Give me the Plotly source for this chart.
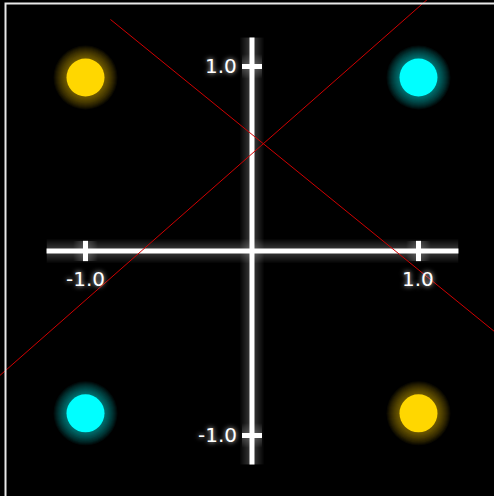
import plotly.graph_objects as go

# Point markers (quadrant colours)
dot_x = [-1.0, 1.0, -1.0, 1.0]
dot_y = [0.94, 0.94, -0.88, -0.88]
dot_colors = ["#FFD700", "#00FFFF", "#00FFFF", "#FFD700"]

# Axis extents and tick positions
axis_x_span = [-1.234, 1.24]
axis_y_span = [-1.157, 1.157]
tick_vals = [-1.0, 1.0]
tick_labels = ["-1.0", "1.0"]

# Red guide lines (endpoints in data units)
red_line_a_x = [-0.85, 1.75]
red_line_a_y = [1.2548, -0.652]
red_line_b_x = [-1.75, 1.2]
red_line_b_y = [-0.862, 1.48]

x_range = [-1.5135, 1.4535]
y_range = [-1.328, 1.3603]

fig = go.Figure()

# Soft halo: many thin translucent layers stacked from wide to narrow
line_glow = [(w, 0.022) for w in range(24, 5, -2)]


def glow_line(xs, ys):
    for w, a in line_glow:
        fig.add_trace(go.Scatter(x=xs, y=ys, mode="lines",
                                 line=dict(color=f"rgba(255,255,255,{a})", width=w),
                                 hoverinfo="skip", showlegend=False))
    fig.add_trace(go.Scatter(x=xs, y=ys, mode="lines",
                             line=dict(color="white", width=5),
                             hoverinfo="skip", showlegend=False))


# Axes through the origin
glow_line(axis_x_span, [0, 0])
glow_line([0, 0], axis_y_span)

# Tick marks
tick_half_x = 0.055   # vertical tick on horizontal axis (data y units)
tick_half_y = 0.06    # horizontal tick on vertical axis (data x units)
for t in tick_vals:
    glow_line([t, t], [-tick_half_x, tick_half_x])
    glow_line([-tick_half_y, tick_half_y], [t, t])

# Red guide lines
fig.add_trace(go.Scatter(x=red_line_a_x, y=red_line_a_y, mode="lines",
                         line=dict(color="#d00000", width=1),
                         hoverinfo="skip", showlegend=False))
fig.add_trace(go.Scatter(x=red_line_b_x, y=red_line_b_y, mode="lines",
                         line=dict(color="#d00000", width=1),
                         hoverinfo="skip", showlegend=False))


# Glowing dots
def hex_rgba(h, a):
    h = h.lstrip("#")
    r, g, b = int(h[0:2], 16), int(h[2:4], 16), int(h[4:6], 16)
    return f"rgba({r},{g},{b},{a})"


for size in range(64, 38, -2):
    fig.add_trace(go.Scatter(x=dot_x, y=dot_y, mode="markers",
                             marker=dict(size=size,
                                         color=[hex_rgba(c, 0.045) for c in dot_colors],
                                         line=dict(width=0)),
                             hoverinfo="skip", showlegend=False))
fig.add_trace(go.Scatter(x=dot_x, y=dot_y, mode="markers",
                         marker=dict(size=38, color=dot_colors, line=dict(width=0)),
                         showlegend=False))

# Tick labels
label_font = dict(family="DejaVu Sans", size=20, color="white",
                  shadow="0px 0px 5px rgba(255,255,255,0.9)")
for t, lab in zip(tick_vals, tick_labels):
    fig.add_annotation(x=t, y=-0.15, text=lab, showarrow=False,
                       font=label_font, xanchor="center", yanchor="middle")
    fig.add_annotation(x=-0.08, y=t, text=lab, showarrow=False,
                       font=label_font, xanchor="right", yanchor="middle")

# Frame
fig.add_shape(type="rect", xref="paper", yref="paper",
              x0=5.5 / 494, x1=1.3, y0=-0.3, y1=1 - 3.5 / 496,
              line=dict(color="#e8e8e8", width=2), layer="above")

fig.update_layout(
    width=494, height=496,
    margin=dict(l=0, r=0, t=0, b=0),
    paper_bgcolor="black", plot_bgcolor="black",
    xaxis=dict(range=x_range, visible=False, fixedrange=True),
    yaxis=dict(range=y_range, visible=False, fixedrange=True),
    showlegend=False,
)

fig.write_html("out.html")
